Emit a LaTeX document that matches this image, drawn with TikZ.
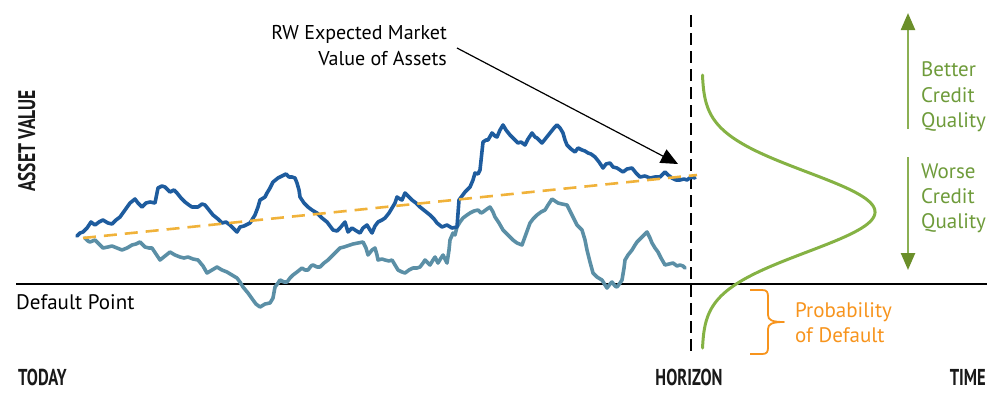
\documentclass[tikz,border=0pt]{standalone}
\usepackage{fontspec}
\usepackage{graphicx}
\setmainfont{PT Sans}
\usetikzlibrary{arrows.meta}
\definecolor{rwblue}{HTML}{1E5C9E}
\definecolor{rwteal}{HTML}{5B8FA6}
\definecolor{rworange}{HTML}{F0B23A}
\definecolor{pdorange}{HTML}{F7941D}
\definecolor{cqgreen}{HTML}{6E9B3A}
\definecolor{bellgreen}{HTML}{85B244}
\definecolor{arrgreen}{HTML}{8BB053}
\definecolor{headgreen}{HTML}{6B8F2A}
\tikzset{
  walk/.style={line width=3.6pt, line join=round, line cap=round},
  lbl/.style={inner sep=0pt, font=\fontsize{20}{25}\selectfont},
  axlbl/.style={inner sep=0pt, font=\fontsize{23}{25}\selectfont\bfseries, text=black!90},
  greentxt/.style={inner sep=0pt, text=cqgreen, font=\fontsize{21}{25}\selectfont, anchor=base west},
  greenarr/.style={draw=arrgreen, line width=2.4pt, -{Triangle[length=17pt,width=14pt,color=headgreen]}},
}
\begin{document}
\begin{tikzpicture}[x=1pt,y=-1pt]
\path[use as bounding box] (0,0) rectangle (1000,397);

% default line
\coordinate (dl0) at (16,284);
\coordinate (dl1) at (987,284);
\draw[line width=2.5pt] (dl0) -- (dl1);

% horizon dashed line
\coordinate (h0) at (691,15);
\coordinate (h1) at (691,355);
\draw[line width=2.5pt, dash pattern=on 12pt off 6pt] (h0) -- (h1);

% teal walk
\draw[walk, draw=rwteal] plot coordinates {
(85,238) (88,241) (90,242) (95,240) (99,244) (103,248) (108,247) (112,246) (117,248) (122,250) (127,248) (132,245) (136,244) (140,242) (145,247) (149,248) (152,248) (156,254) (160,260) (165,256) (170,252) (175,255) (180,257) (184,258) (188,257) (193,259) (198,260) (203,266) (207,273) (212,270) (217,267) (222,270) (227,272) (232,275) (237,278) (240,282) (243,287) (248,293) (253,300) (256,304) (260,307) (265,304) (270,303) (273,298) (275,287) (278,283) (280,280) (284,282) (287,282) (290,278) (293,275) (297,272) (302,268) (305,270) (308,270) (311,266) (313,265) (317,267) (320,267) (324,263) (328,260) (332,256) (335,253) (338,250) (340,248) (344,247) (347,246) (350,245) (353,244) (358,243) (363,242) (366,248) (368,255) (372,250) (375,248) (377,255) (378,260) (382,259) (385,260) (389,261) (392,260) (395,265) (398,270) (402,272) (405,273) (409,270) (413,268) (417,268) (420,267) (423,263) (425,260) (428,263) (430,265) (433,260) (435,257) (437,261) (438,263) (441,258) (443,255) (445,259) (447,263) (449,250) (450,240) (453,233) (455,235) (457,227) (460,222) (463,218) (467,215) (470,213) (474,211) (478,210) (481,213) (483,212) (487,209) (490,207) (493,212) (495,217) (499,223) (503,230) (508,235) (513,240) (517,243) (522,245) (526,234) (530,223) (533,219) (537,215) (541,212) (545,210) (548,205) (552,199) (555,201) (558,203) (562,204) (567,205) (572,215) (577,225) (580,228) (582,230) (585,240) (587,250) (590,262) (593,273) (597,277) (602,280) (605,285) (607,288) (610,284) (612,282) (615,286) (617,287) (620,283) (622,280) (624,268) (625,260) (628,255) (632,250) (635,245) (637,242) (642,237) (647,232) (650,238) (652,243) (655,248) (658,252) (661,258) (665,265) (669,264) (673,263) (677,266) (680,265) (683,266) (685,268)
};

% blue walk
\draw[walk, draw=rwblue] plot coordinates {
(77,236) (80,233) (83,232) (87,228) (91,222) (95,225) (99,222) (103,220) (108,223) (112,224) (116,220) (120,217) (125,210) (130,203) (135,199) (138,203) (142,207) (146,203) (150,202) (155,203) (158,188) (162,186) (165,187) (168,190) (170,192) (174,190) (177,193) (181,198) (185,202) (189,205) (192,207) (198,207) (202,204) (205,205) (209,210) (213,215) (218,219) (222,223) (226,222) (230,225) (234,229) (237,232) (240,227) (244,226) (250,223) (255,215) (258,207) (260,200) (265,197) (267,193) (270,188) (273,182) (278,178) (282,176) (286,174) (289,177) (292,177) (295,178) (297,183) (299,190) (300,197) (304,203) (308,207) (312,210) (317,213) (322,218) (327,222) (330,226) (333,230) (337,231) (340,228) (345,222) (348,232) (352,228) (355,230) (360,233) (363,228) (367,225) (370,230) (372,233) (375,226) (378,222) (382,220) (385,218) (389,213) (392,208) (395,203) (397,197) (400,199) (402,200) (405,193) (409,197) (412,200) (416,203) (420,207) (425,211) (430,215) (434,219) (437,223) (442,227) (447,225) (452,228) (457,227) (459,200) (462,196) (465,192) (470,187) (473,180) (475,173) (478,174) (480,170) (483,142) (486,140) (488,140) (492,133) (495,136) (497,137) (500,130) (503,125) (506,130) (510,135) (514,139) (518,143) (521,142) (525,145) (528,139) (532,133) (535,137) (537,138) (540,141) (542,143) (546,138) (550,133) (554,128) (557,125) (560,128) (563,133) (565,140) (567,145) (571,149) (575,152) (578,148) (582,150) (585,151) (588,153) (591,154) (595,157) (599,162) (603,168) (606,164) (610,163) (613,167) (617,168) (620,170) (623,172) (627,169) (632,168) (636,173) (640,177) (645,176) (650,178) (655,177) (660,177) (663,174) (665,172) (668,175) (672,178) (676,180) (680,180) (684,179) (687,180) (691,177) (695,178)
};

% expected value dashed
\coordinate (e0) at (83,238);
\coordinate (e1) at (697,175);
\draw[rworange, line width=2.6pt, dash pattern=on 13pt off 8pt] (e0) -- (e1);

% bell curve
\draw[bellgreen, line width=3pt, line cap=round] plot[domain=75:348, samples=140, smooth] ({702+173*exp(-0.5*((\x-212)/40)^2)}, \x);

% labels
\node[lbl, anchor=base east] (rw1) at (447,39) {RW Expected Market};
\node[lbl, anchor=base east] (rw2) at (447,65) {Value of Assets};
\coordinate (arrS) at (457,48);
\coordinate (arrE) at (678,164);
\draw[line width=1.2pt, -{Triangle[length=17pt,width=15pt]}] (arrS) -- (arrE);

\node[lbl, anchor=base west, font=\fontsize{21}{25}\selectfont] (dp) at (16,309) {Default Point};

\node[axlbl, anchor=base west] (today) at (18,385) {\scalebox{0.72}[1]{TODAY}};
\node[axlbl, anchor=base] (hor) at (689,385) {\scalebox{0.72}[1]{HORIZON}};
\node[axlbl, anchor=base east] (time) at (986,385) {\scalebox{0.72}[1]{TIME}};
\node[axlbl, anchor=base, rotate=90, font=\fontsize{24}{25}\selectfont\bfseries] (av) at (35,141) {\scalebox{0.73}[1]{ASSET VALUE}};

% green arrows
\coordinate (ua0) at (908,129);
\coordinate (ua1) at (908,13);
\draw[greenarr] (ua0) -- (ua1);
\coordinate (da0) at (908,157);
\coordinate (da1) at (908,270);
\draw[greenarr] (da0) -- (da1);

\node[greentxt] (b1) at (921,76) {Better};
\node[greentxt] (b2) at (921,102) {Credit};
\node[greentxt] (b3) at (921,127) {Quality};
\node[greentxt] (w1) at (921,178) {Worse};
\node[greentxt] (w2) at (921,203) {Credit};
\node[greentxt] (w3) at (921,228) {Quality};

% brace
\coordinate (br0) at (750,290);
\coordinate (brT) at (784,322);
\coordinate (br1) at (750,354);
\draw[pdorange, line width=1.8pt, line join=round]
  (br0) -- (762,290) .. controls (767,290) and (768,292) .. (768,297) -- (768,315)
  .. controls (768,320) and (772,322) .. (brT)
  .. controls (772,322) and (768,324) .. (768,329) -- (768,347)
  .. controls (768,352) and (767,354) .. (762,354) -- (br1);
\node[greentxt, text=pdorange] (p1) at (795,317) {Probability};
\node[greentxt, text=pdorange] (p2) at (795,342) {of Default};
\end{tikzpicture}
\end{document}
